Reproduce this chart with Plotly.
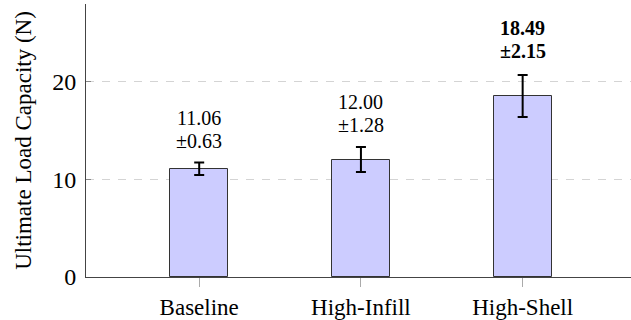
import plotly.graph_objects as go

categories = ["Baseline", "High-Infill", "High-Shell"]
means = [11.06, 12.00, 18.49]
stds = [0.63, 1.28, 2.15]
highlight = [False, False, True]
y_ticks = [0, 10, 20]

SERIF = "'Liberation Serif', 'Times New Roman', serif"

fig = go.Figure()
fig.add_trace(go.Bar(
    x=categories, y=means, width=0.36,
    marker=dict(color="#ccccff", line=dict(color="#333333", width=1)),
    error_y=dict(type="data", array=stds, visible=True, color="black", thickness=2, width=5),
))

for c, m, s, hl in zip(categories, means, stds, highlight):
    mean_txt = f"{m:.2f}"
    std_txt = f"±{s:.2f}"
    if hl:
        mean_txt, std_txt = f"<b>{mean_txt}</b>", f"<b>{std_txt}</b>"
    base = 11 if hl else 9
    step = 23
    fig.add_annotation(x=c, y=m + s, text=std_txt, showarrow=False, yanchor="bottom",
                       yshift=base, font=dict(family=SERIF, size=20, color="black"))
    fig.add_annotation(x=c, y=m + s, text=mean_txt, showarrow=False, yanchor="bottom",
                       yshift=base + step, font=dict(family=SERIF, size=20, color="black"))

fig.update_layout(
    width=631, height=320,
    margin=dict(l=86, r=0, t=4, b=43, autoexpand=False),
    plot_bgcolor="white", paper_bgcolor="white",
    showlegend=False,
    font=dict(family=SERIF, color="black"),
    bargap=0,
)
fig.update_xaxes(range=[-0.70, 2.67], showline=True, linecolor="#444444", linewidth=1,
                 ticks="outside", ticklen=9, tickcolor="#aaaaaa", tickfont=dict(size=23),
                 showgrid=False, zeroline=False, automargin=False)
fig.update_yaxes(range=[0, 27.9], tickvals=y_ticks, showline=True, linecolor="#444444", linewidth=1,
                 showgrid=True, gridcolor="#d4d4d4", griddash="8px,8px", gridwidth=1,
                 zeroline=False, ticks="inside", ticklen=5, tickcolor="#888888",
                 tickfont=dict(size=24), ticklabelstandoff=4, automargin=False,
                 title=dict(text="Ultimate Load Capacity (N)", font=dict(size=23), standoff=14))

fig.write_html("out.html", config={"displayModeBar": False},
               post_script="document.body.style.margin='0';")
